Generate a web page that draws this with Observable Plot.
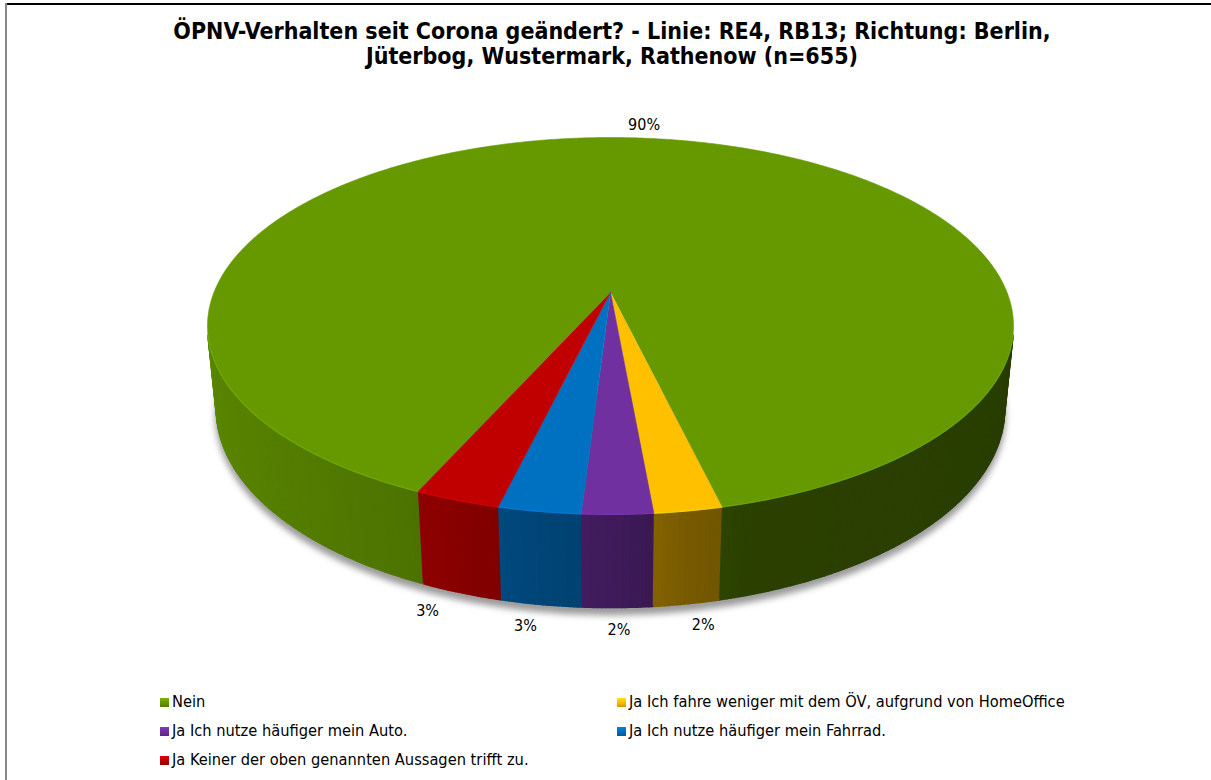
<!DOCTYPE html>
<html><head><meta charset="utf-8">
<script src="https://cdn.jsdelivr.net/npm/d3@7"></script>
<script src="https://cdn.jsdelivr.net/npm/@observablehq/plot@0.6"></script>
<style>
body{margin:0;background:#fff;}
#frame{position:relative;width:1211px;height:780px;overflow:hidden;background:#fff;font-family:"DejaVu Sans Condensed","DejaVu Sans",sans-serif;color:#000;}
#title{position:absolute;left:0;top:19px;width:1224px;text-align:center;font-weight:bold;font-size:23px;line-height:25px;}
#chart{position:absolute;left:0;top:85px;}
.li{position:absolute;height:20px;line-height:20px;font-size:16.3px;white-space:nowrap;}
.mk{display:inline-block;width:9px;height:9px;margin-right:3px;vertical-align:0px;box-sizing:border-box;}
#bt{position:absolute;left:5px;top:3px;width:1206px;height:2px;background:#000;}
#bl{position:absolute;left:5px;top:3px;width:2px;height:777px;background:#888;}
</style></head>
<body>
<div id="frame">
  <div id="title">ÖPNV-Verhalten seit Corona geändert? - Linie: RE4, RB13; Richtung: Berlin,<br>Jüterbog, Wustermark, Rathenow (n=655)</div>
  <div id="chart"></div>
  <div id="legend"></div>
  <div id="bt"></div><div id="bl"></div>
</div>
<script>
// ---- data ----
const categories = [
  "Nein",
  "Ja Ich fahre weniger mit dem ÖV, aufgrund von HomeOffice",
  "Ja Ich nutze häufiger mein Auto.",
  "Ja Ich nutze häufiger mein Fahrrad.",
  "Ja Keiner der oben genannten Aussagen trifft zu."
];
const values = [89.6, 2.3, 2.4, 2.8, 2.9];
const colors = ["#669900", "#ffc000", "#7030a0", "#0070c0", "#c00000"];
const firstSliceAngle = 204;

// ---- 3D view ----
const W = 1211, SVG_TOP = 85, SVG_H = 600, CX = 610, CY = 292;
const D = 5.0, ALPHA = 27.4 * Math.PI / 180, S = Math.sin(ALPHA), C = Math.cos(ALPHA), F = 1983, H = 0.237;
function project(theta, r, h) {
  const t = theta * Math.PI / 180;
  const X = r * Math.sin(t), Z = -r * Math.cos(t);
  const w = D - Z * C - h * S;
  return [F * X / w, F * (Z * S - h * C) / w];
}
function shade(theta) {
  const X = Math.sin(theta * Math.PI / 180);
  return d3.scaleLinear().domain([-1, -0.45, -0.33, -0.18, 0, 0.16, 0.3, 1]).range([0.88, 0.76, 0.71, 0.63, 0.57, 0.47, 0.42, 0.40]).clamp(true)(X);
}
function darken(col, f) { const c = d3.rgb(col); return d3.rgb(c.r * f, c.g * f, c.b * f).formatHex(); }

const total = d3.sum(values);
let acc = 0;
const slices = values.map((v, i) => {
  const a0 = firstSliceAngle + acc / total * 360; acc += v;
  const a1 = firstSliceAngle + acc / total * 360;
  return {i, a0, a1, v, color: colors[i], label: Math.round(v) + "%"};
});
function sliceAt(theta) {
  for (const s of slices) {
    for (const k of [-360, 0, 360]) if (theta >= s.a0 + k && theta < s.a1 + k) return s;
  }
  return slices[0];
}

// top faces
const tops = [];
for (const s of slices) {
  const n = Math.max(2, Math.ceil((s.a1 - s.a0) / 0.5));
  tops.push({x: 0, y: 0, z: "t" + s.i, fill: s.color});
  for (let k = 0; k <= n; k++) {
    const [x, y] = project(s.a0 + (s.a1 - s.a0) * k / n, 1, 0);
    tops.push({x, y, z: "t" + s.i, fill: s.color});
  }
}

// visible wall range (silhouette of cylinder)
const zs = 1 / (D * C);
const vis0 = 180 - Math.acos(zs) * 180 / Math.PI, vis1 = 180 + Math.acos(zs) * 180 / Math.PI;
let bounds = [vis0, vis1];
for (const s of slices) for (const a of [s.a0, s.a1]) for (const k of [-360, 0, 360]) { const b = a + k; if (b > vis0 && b < vis1) bounds.push(b); }
bounds = Array.from(new Set(bounds.map(b => +b.toFixed(6)))).sort((a, b) => a - b);
const walls = [], rims = [];
let q = 0;
for (let j = 0; j < bounds.length - 1; j++) {
  const b0 = bounds[j], b1 = bounds[j + 1];
  const s = sliceAt((b0 + b1) / 2);
  const n = Math.max(1, Math.ceil((b1 - b0) / 0.5));
  for (let k = 0; k < n; k++) {
    const t0 = b0 + (b1 - b0) * k / n, t1 = b0 + (b1 - b0) * (k + 1) / n;
    const col = darken(s.color, shade((t0 + t1) / 2));
    const pts = [project(t0, 1, 0), project(t1, 1, 0), project(t1, 1, -H), project(t0, 1, -H)];
    for (const [x, y] of pts) walls.push({x, y, z: "w" + (q), fill: col});
    q++;
  }
  for (let k = 0; k <= n; k++) {
    const [x, y] = project(b0 + (b1 - b0) * k / n, 1, 0);
    rims.push({x, y, z: "r" + j, stroke: d3.rgb(s.color).brighter(0.6).formatHex()});
  }
}

// soft shadow under the pie
const shadow = [];
for (let t = vis0 - 10; t <= vis1 + 10; t += 1) {
  const [x, y] = project(t, 1.004, -H - 0.012);
  shadow.push({x, y: y + 2});
}

// labels
const labelData = slices.map(s => {
  const mid = (s.a0 + s.a1) / 2;
  const back = -Math.cos(mid * Math.PI / 180) < 0;
  const [x, y] = back ? project(mid, 1.1, 0) : project(mid, 1.172, -0.165);
  return {x, y, text: s.label};
});

const plot = Plot.plot({
  width: W, height: SVG_H,
  marginTop: 0, marginRight: 0, marginBottom: 0, marginLeft: 0,
  x: {type: "linear", domain: [-CX, W - CX], range: [0, W], axis: null},
  y: {type: "linear", domain: [-(CY - SVG_TOP), SVG_TOP + SVG_H - CY], range: [0, SVG_H], axis: null},
  color: {type: "identity"},
  style: {background: "transparent", overflow: "visible"},
  marks: [
    Plot.line(shadow, {x: "x", y: "y", fill: "#7a7a7a", fillOpacity: 0.75, stroke: "none", ariaDescription: "shadow"}),
    Plot.line(walls, {x: "x", y: "y", z: "z", fill: "fill", stroke: "fill", strokeWidth: 1.6, strokeLinejoin: "round"}),
    Plot.line(tops, {x: "x", y: "y", z: "z", fill: "fill", stroke: "fill", strokeWidth: 0.6}),
    Plot.line(rims, {x: "x", y: "y", z: "z", stroke: "stroke", strokeWidth: 1.2, strokeOpacity: 0.55}),
    Plot.text(labelData, {x: "x", y: "y", text: "text", fontSize: 16, fill: "#000", fontFamily: "DejaVu Sans Condensed, DejaVu Sans, sans-serif"})
  ]
});
// blur for the shadow
const ns = "http://www.w3.org/2000/svg";
const defs = document.createElementNS(ns, "defs");
const filt = document.createElementNS(ns, "filter");
filt.setAttribute("id", "softshadow");
filt.setAttribute("x", "-10%"); filt.setAttribute("y", "-10%"); filt.setAttribute("width", "120%"); filt.setAttribute("height", "130%");
const blur = document.createElementNS(ns, "feGaussianBlur");
blur.setAttribute("stdDeviation", "3");
filt.appendChild(blur); defs.appendChild(filt);
plot.insertBefore(defs, plot.firstChild);
const sg = plot.querySelector('g[aria-description="shadow"]') || plot.querySelector('g[aria-label="line"]');
if (sg) sg.setAttribute("filter", "url(#softshadow)");
document.getElementById("chart").appendChild(plot);

// legend
const legend = document.getElementById("legend");
const rowY = [702, 731, 760], colX = [160, 617];
categories.forEach((cat, i) => {
  const el = document.createElement("div");
  el.className = "li";
  el.style.left = colX[i % 2] + "px";
  el.style.top = (rowY[Math.floor(i / 2)] - 10) + "px";
  const mk = document.createElement("span");
  mk.className = "mk";
  const c = d3.rgb(colors[i]);
  mk.style.background = `linear-gradient(${c.brighter(0.5).formatHex()}, ${colors[i]} 45%, ${c.darker(0.6).formatHex()})`;
  el.appendChild(mk);
  el.appendChild(document.createTextNode(cat));
  legend.appendChild(el);
});
</script>
</body></html>
